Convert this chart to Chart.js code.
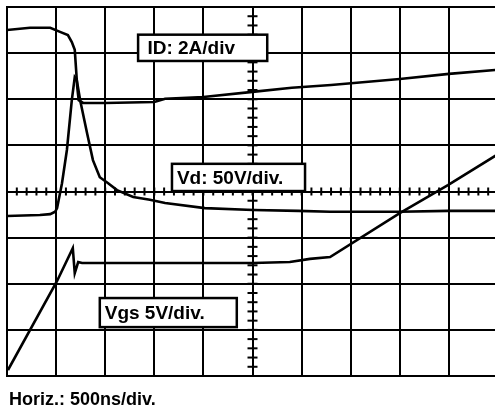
<!DOCTYPE html>
<html>
<head>
<meta charset="utf-8">
<script src="https://cdn.jsdelivr.net/npm/chart.js@4/dist/chart.umd.min.js"></script>
<style>
  html, body { margin: 0; padding: 0; background: #fff; overflow: hidden; }
  #wrap { width: 500px; height: 413px; }
</style>
</head>
<body>
<div id="wrap"><canvas id="c" width="500" height="413"></canvas></div>
<script>
// Time axis in divisions (500 ns/div), vertical in screen divisions
const xTicks = [0,1,2,3,4,5,6,7,8,9,10];
const yTicks = [-4,-3,-2,-1,0,1,2,3,4];

// ID trace (2 A/div)
const idX = [0, 0.47, 0.88, 1.08, 1.24, 1.32, 1.38, 1.41, 1.43, 1.46, 1.55, 2.0, 3.0, 3.22, 4.0, 5.0, 5.8, 6.6, 8.0, 9.0, 10];
const idY = [3.5, 3.55, 3.55, 3.46, 3.39, 3.24, 3.07, 2.6, 2.27, 1.98, 1.92, 1.92, 1.94, 2.01, 2.05, 2.16, 2.25, 2.31, 2.44, 2.55, 2.64];

// Vd trace (50 V/div)
const vdX = [0, 0.67, 0.88, 0.98, 1.02, 1.12, 1.22, 1.32, 1.38, 1.42, 1.49, 1.63, 1.75, 1.89, 2.06, 2.24, 2.57, 2.91, 3.22, 4.03, 5.01, 5.93, 6.58, 8.0, 8.98, 10];
const vdY = [-0.53, -0.51, -0.49, -0.44, -0.36, 0.18, 0.90, 1.98, 2.48, 2.42, 1.98, 1.27, 0.68, 0.31, 0.18, 0.03, -0.12, -0.18, -0.25, -0.36, -0.40, -0.42, -0.44, -0.44, -0.42, -0.42];

// Vgs trace (5 V/div)
const vgsX = [0.02, 1.02, 1.34, 1.38, 1.45, 1.53, 1.89, 3.22, 5.01, 5.76, 6.17, 6.58, 8.0, 8.98, 10];
const vgsY = [-3.87, -1.94, -1.23, -1.77, -1.53, -1.55, -1.55, -1.55, -1.55, -1.53, -1.46, -1.42, -0.47, 0.14, 0.81];

// Labels
const labels = [
  { text: 'ID: 2A/div',   box: [2.67, 3.40, 5.30, 2.83], tx: 2.86 },
  { text: 'Vd: 50V/div.', box: [3.36, 0.60, 6.07, 0.01], tx: 3.46 },
  { text: 'Vgs 5V/div.',  box: [1.89, -2.31, 4.68, -2.94], tx: 1.99 }
];
const footer = 'Horiz.: 500ns/div.';

function pts(xs, ys) { return xs.map((x, i) => ({ x: x, y: ys[i] })); }

const traceStyle = { borderColor: '#000', borderWidth: 2.6, pointRadius: 0, tension: 0, fill: false };

const decor = {
  id: 'decor',
  afterDatasetsDraw(chart) {
    const ctx = chart.ctx;
    const xs = chart.scales.x, ys = chart.scales.y;
    ctx.save();
    // centre-axis minor ticks (0.2 div)
    ctx.strokeStyle = '#000';
    ctx.lineWidth = 2;
    const y0 = ys.getPixelForValue(0);
    for (let k = 0; k <= 50; k++) {
      const px = xs.getPixelForValue(k * 0.2);
      ctx.beginPath(); ctx.moveTo(px, y0 - 4); ctx.lineTo(px, y0 + 4); ctx.stroke();
    }
    const x0 = xs.getPixelForValue(5);
    for (let k = -20; k <= 20; k++) {
      const py = ys.getPixelForValue(k * 0.2);
      ctx.beginPath(); ctx.moveTo(x0 - 5, py); ctx.lineTo(x0 + 5, py); ctx.stroke();
    }
    // boxed labels
    ctx.font = 'bold 19px "Liberation Sans", Arial, sans-serif';
    ctx.textBaseline = 'middle';
    labels.forEach(l => {
      const L = xs.getPixelForValue(l.box[0]), T = ys.getPixelForValue(l.box[1]);
      const R = xs.getPixelForValue(l.box[2]), B = ys.getPixelForValue(l.box[3]);
      ctx.fillStyle = '#fff';
      ctx.fillRect(L, T, R - L, B - T);
      ctx.lineWidth = 2.5;
      ctx.strokeStyle = '#000';
      ctx.strokeRect(L, T, R - L, B - T);
      ctx.fillStyle = '#000';
      ctx.fillText(l.text, xs.getPixelForValue(l.tx), (T + B) / 2 + 1);
    });
    // footer
    ctx.font = 'bold 18px "Liberation Sans", Arial, sans-serif';
    ctx.textBaseline = 'alphabetic';
    ctx.fillText(footer, 9, 405);
    ctx.restore();
  }
};

new Chart(document.getElementById('c'), {
  type: 'line',
  data: {
    datasets: [
      Object.assign({ label: 'ID', data: pts(idX, idY) }, traceStyle),
      Object.assign({ label: 'Vd', data: pts(vdX, vdY) }, traceStyle),
      Object.assign({ label: 'Vgs', data: pts(vgsX, vgsY) }, traceStyle)
    ]
  },
  options: {
    responsive: false,
    devicePixelRatio: 1,
    animation: false,
    layout: { padding: { left: 7, top: 7, right: 2, bottom: 37 } },
    plugins: { legend: { display: false }, tooltip: { enabled: false }, title: { display: false } },
    scales: {
      x: {
        type: 'linear', min: 0, max: 10,
        afterBuildTicks: s => { s.ticks = xTicks.map(v => ({ value: v })); },
        ticks: { display: false },
        grid: { color: '#000', lineWidth: 2, drawTicks: false },
        border: { display: true, color: '#000', width: 2 }
      },
      y: {
        type: 'linear', min: -4, max: 4,
        afterBuildTicks: s => { s.ticks = yTicks.map(v => ({ value: v })); },
        ticks: { display: false },
        grid: { color: '#000', lineWidth: 2, drawTicks: false },
        border: { display: true, color: '#000', width: 2 }
      }
    }
  },
  plugins: [decor]
});
</script>
</body>
</html>
